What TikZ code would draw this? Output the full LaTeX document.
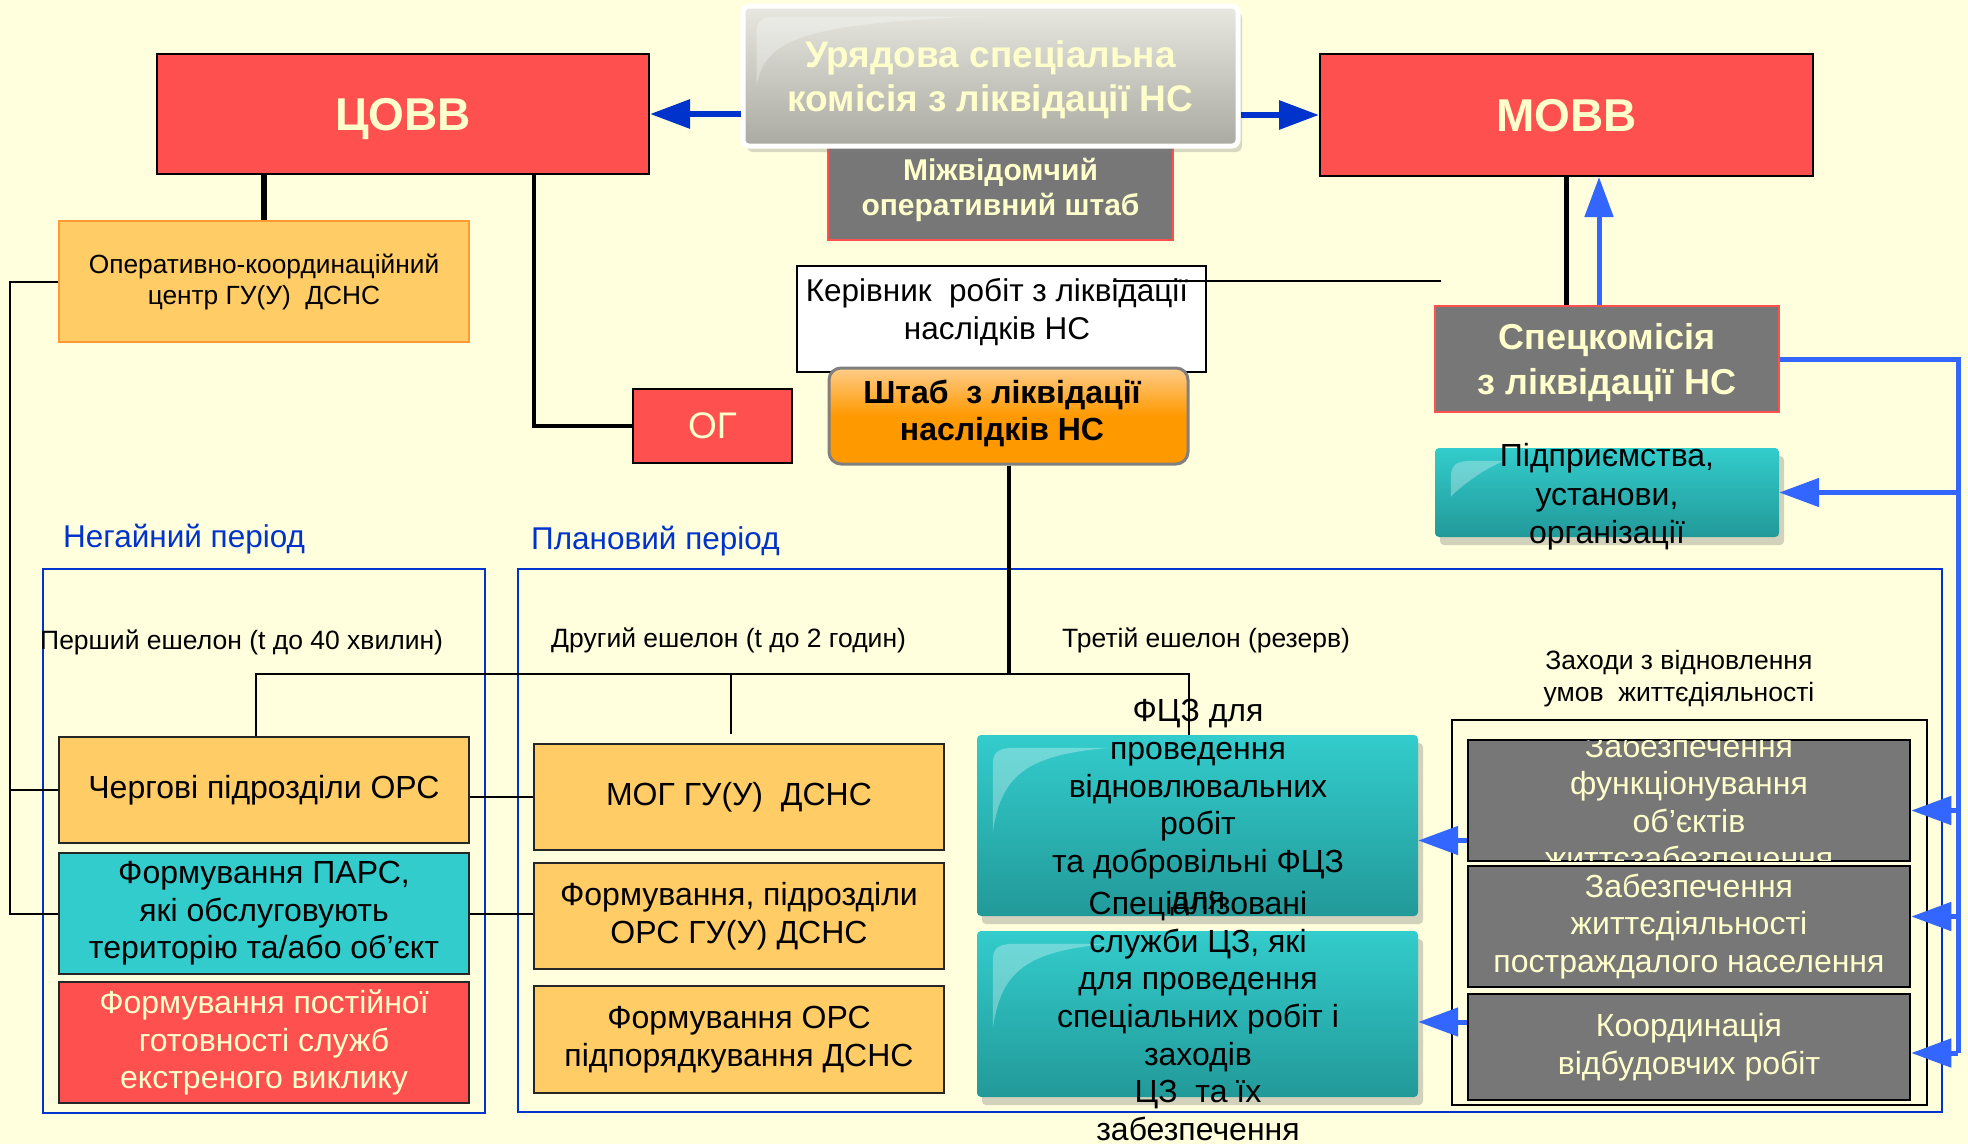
\documentclass[tikz,border=0pt]{standalone}
\usepackage{fontspec}
\setmainfont{Liberation Sans}
\usetikzlibrary{calc,arrows.meta,shadows}
\definecolor{bgcol}{HTML}{FFFFDD}
\definecolor{redbox}{HTML}{FF5050}
\definecolor{goldbox}{HTML}{FFCC66}
\definecolor{goldedge}{HTML}{FF9933}
\definecolor{tealtop}{HTML}{33CCCC}
\definecolor{tealbot}{HTML}{229999}
\definecolor{graybox}{HTML}{777777}
\definecolor{cream}{HTML}{FFFFCC}
\definecolor{bluedark}{HTML}{0033CC}
\definecolor{bluelight}{HTML}{3366FF}
\definecolor{shtabtop}{HTML}{FFCC88}
\definecolor{shtabbot}{HTML}{FF9900}
\definecolor{silvertop}{HTML}{E8E8E1}
\definecolor{silverbot}{HTML}{AAAAA3}
\newcommand{\glint}[3]{%
  \fill[white, opacity=0.3]
    ($(#1.north west)+(16,#2)$) -- ($(#1.north west)+(16,30)$)
    .. controls ($(#1.north west)+(16,16)$) and ($(#1.north west)+(22,13)$) .. ($(#1.north west)+(40,13)$)
    -- ($(#1.north west)+(#3,13)$)
    .. controls ($(#1.north west)+(50,20)$) and ($(#1.north west)+(24,40)$) .. cycle;}

\begin{document}
\begin{tikzpicture}
[
x=1pt, y=-1pt,
box-red/.style={draw=black, line width=2pt, fill=redbox, text=cream, inner sep=0pt},
box-gold/.style={draw=black!85, line width=2.5pt, fill=goldbox, text=black, inner sep=0pt, align=center, font=\fontsize{32}{37.5}\selectfont},
box-teal/.style={rounded corners=4pt, top color=tealtop, bottom color=tealbot, drop shadow={shadow xshift=5pt, shadow yshift=-8pt, opacity=0.35}, inner sep=0pt},
box-gray/.style={draw=black, line width=2.5pt, fill=graybox, text=cream, inner sep=0pt, align=center, font=\fontsize{32}{37.6}\selectfont},
box-silver/.style={draw=white, line width=5pt, rounded corners=6pt, top color=silvertop, bottom color=silverbot, inner sep=0pt, drop shadow={shadow xshift=4pt, shadow yshift=-6pt, opacity=0.3}},
text-a/.style={black, align=center, inner sep=0pt},
link-a/.style={black, line width=2pt},
link-b/.style={black, line width=4pt},
link-c/.style={black, line width=5.5pt},
link-blue/.style={bluelight, line width=5pt},
arrow-a/.style={bluedark, line width=6pt, -{Triangle[length=40pt, width=28pt]}},
arrow-b/.style={bluelight, line width=5pt, -{Triangle[length=40pt, width=28pt]}},
frame-a/.style={bluedark, line width=2.5pt}
]
\useasboundingbox (0,0) rectangle (1968,1144);
\fill[bgcol] (0,0) rectangle (1968,1144);

% periods
\draw[frame-a] (43,569) rectangle (485,1113);
\draw[frame-a] (518,569) rectangle (1942,1112);
\draw[link-a] (1452,720) rectangle (1927,1105);
\node (urgent)  [text-a, bluedark, anchor=west, font=\fontsize{31.5}{36}\selectfont] at (63,539) {Негайний період};
\node (planned) [text-a, bluedark, anchor=west, font=\fontsize{31.5}{36}\selectfont] at (531,541) {Плановий період};
\node (ech-1)   [text-a, anchor=west, font=\fontsize{26.5}{30}\selectfont] at (40,642) {Перший ешелон (t до 40 хвилин)};
\node (ech-2)   [text-a, anchor=west, font=\fontsize{26.5}{30}\selectfont] at (551,640) {Другий ешелон (t до 2 годин)};
\node (ech-3)   [text-a, anchor=west, font=\fontsize{26.5}{30}\selectfont] at (1062,640) {Третій ешелон (резерв)};
\node (zakhody) [text-a, font=\fontsize{26.5}{32}\selectfont] at (1679,679) {Заходи з відновлення\\умов~ життєдіяльності};

% top row
\node (mizhv) [box-gray, draw=redbox, line width=2pt, minimum width=345, minimum height=100, font=\bfseries\fontsize{30}{35}\selectfont] at (1000.5,190) {Міжвідомчий\\оперативний штаб};
\node (uriad) [box-silver, minimum width=495, minimum height=140] at (990.5,76) {};
\glint{uriad}{83}{240}
\node (uriad-txt) [text-a, cream, font=\bfseries\fontsize{37}{44}\selectfont] at (990.5,80) {Урядова спеціальна\\комісія з ліквідації НС};
\node (tsovv) [box-red, minimum width=492, minimum height=120, text depth=0pt, font=\bfseries\fontsize{46}{50}\selectfont] at (403,114) {ЦОВВ};
\node (movv)  [box-red, minimum width=493, minimum height=122, text depth=0pt, font=\bfseries\fontsize{46}{50}\selectfont] at (1566.5,115) {МОВВ};
\node (opk)   [box-gold, draw=goldedge, minimum width=410, minimum height=121, font=\fontsize{26.3}{31}\selectfont] at (264,281.5) {Оперативно-координаційний\\центр ГУ(У)~ ДСНС};
\node (og)    [box-red, minimum width=159, minimum height=74, font=\fontsize{37}{40}\selectfont] at (712.5,426) {ОГ};
\node (kerivnyk) [draw=black, line width=2pt, fill=white, minimum width=409, minimum height=106] at (1001.5,319) {};
\node (kerivnyk-txt) [text-a, font=\fontsize{31.5}{38}\selectfont] at (997,312) {Керівник~ робіт з ліквідації\\наслідків НС};
\node (shtab) [draw=gray, line width=3pt, rounded corners=12pt, top color=shtabtop, bottom color=shtabbot, middle color=shtabbot, minimum width=359, minimum height=96, inner sep=0pt] at (1008.5,416) {};
\node (shtab-txt) [text-a, font=\bfseries\fontsize{32}{37}\selectfont] at (1002,413.5) {Штаб~ з ліквідації\\наслідків НС};
\node (speck) [box-gray, draw=redbox, line width=2pt, minimum width=344, minimum height=106] at (1607,359) {};
\node (speck-txt) [text-a, cream, font=\bfseries\fontsize{36}{45}\selectfont] at (1607,363) {Спецкомісія\\з ліквідації НС};
\node (pidpr) [box-teal, minimum width=344, minimum height=89] at (1607,492.5) {};
\glint{pidpr}{49}{70}

% echelons
\node (cherg)    [box-gold, minimum width=410, minimum height=106] at (264,790) {Чергові підрозділи ОРС};
\node (pars)     [box-gold, fill=tealtop, minimum width=410, minimum height=121] at (264,913.5) {Формування ПАРС,\\які обслуговують\\територію та/або об’єкт};
\node (postiyni) [box-gold, fill=redbox, text=cream, minimum width=410, minimum height=121] at (264,1042.5) {Формування постійної\\готовності служб\\екстреного виклику};
\node (mog)      [box-gold, minimum width=410, minimum height=106] at (739,797) {МОГ ГУ(У)~ ДСНС};
\node (fpidr)    [box-gold, minimum width=410, minimum height=106] at (739,916) {Формування, підрозділи\\ОРС ГУ(У) ДСНС};
\node (fors)     [box-gold, minimum width=410, minimum height=107] at (739,1039.5) {Формування ОРС\\підпорядкування ДСНС};
\node (fcz)      [box-teal, minimum width=441, minimum height=181] at (1197.5,825.5) {};
\glint{fcz}{98}{133}
\node (spec)     [box-teal, minimum width=441, minimum height=166] at (1197.5,1014) {};
\glint{spec}{98}{133}
\node (zab-obj)  [box-gray, minimum width=442, minimum height=121] at (1689,800.5) {};
\begin{scope}
\clip ([shift={(1.5,1.5)}]zab-obj.north west) rectangle ([shift={(-1.5,-1.5)}]zab-obj.south east);
\node (zab-obj-txt) [text-a, cream, font=\fontsize{32}{37.6}\selectfont] at (1689,802) {Забезпечення\\функціонування\\об'єктів\\життєзабезпечення};
\end{scope}
\node (zab-nas)  [box-gray, minimum width=442, minimum height=121] at (1689,926.5) {Забезпечення\\життєдіяльності\\постраждалого населення};
\node (koord)    [box-gray, minimum width=442, minimum height=106] at (1689,1047) {Координація\\відбудовчих робіт};

% black links
\draw[link-c] (tsovv.south -| opk.north) -- (opk.north);
\coordinate (tsovv-og) at (534,174);
\draw[link-b] (tsovv-og) |- (og.west);
\coordinate (left-bus) at (10,913.5);
\draw[link-a] (opk.west) -| (left-bus) -- (pars.west);
\draw[link-a] (cherg.west) -- (cherg.west -| left-bus);
\draw[link-a] (cherg.east |- mog.west) -- (mog.west);
\draw[link-a] (pars.east) -- (pars.east -| fpidr.west);
\coordinate (bus-w) at (256,674);
\coordinate (bus-mid) at (731,674);
\coordinate (bus-e) at (1189,674);
\draw[link-b] (shtab.south) -- (shtab.south |- bus-w);
\draw[link-a] (cherg.north -| bus-w) -- (bus-w) -- (bus-e) -- (bus-e |- fcz.north);
\draw[link-a] (bus-mid) -- ($(mog.north -| bus-mid)+(0,-9)$);
\coordinate (kerivnyk-line) at (1441,281);
\draw[link-a] (kerivnyk-line) -- ($(kerivnyk.east)+(-94,-38)$);
\draw[link-c] (movv.south) -- (movv.south |- speck.north);

% blue links
\draw[arrow-a] (uriad.west |- tsovv.east) -- (tsovv.east);
\draw[arrow-a] (uriad.east |- movv.west) -- (movv.west);
\coordinate (speck-up) at ($(speck.north)+(-8,0)$);
\draw[arrow-b] (speck-up) -- (speck-up |- movv.south);
\coordinate (rbus-end) at (1958,1053);
\draw[link-blue] (speck.east) -| (rbus-end);
\draw[arrow-b] (pidpr.east -| rbus-end) -- (pidpr.east);
\coordinate (zab-obj-in) at ($(zab-obj.east)+(0,10)$);
\draw[arrow-b] (zab-obj-in -| rbus-end) -- (zab-obj-in);
\coordinate (zab-nas-in) at ($(zab-nas.east)+(0,-10)$);
\draw[arrow-b] (zab-nas-in -| rbus-end) -- (zab-nas-in);
\draw[arrow-b] (rbus-end) -- (rbus-end -| koord.east);
\coordinate (zab-obj-out) at ($(zab-obj.west)+(0,40)$);
\draw[arrow-b] (zab-obj-out) -- (zab-obj-out -| fcz.east);
\coordinate (koord-out) at ($(koord.west)+(0,-25)$);
\draw[arrow-b] (koord-out) -- (koord-out -| spec.east);

% texts running out of the teal boxes
\node (pidpr-txt) [text-a, font=\fontsize{32}{38.5}\selectfont] at (1607,497) {Підприємства,\\установи,\\організації};
\node (fcz-txt)   [text-a, font=\fontsize{32}{37.6}\selectfont] at (1198,808) {ФЦЗ для\\проведення\\відновлювальних\\робіт\\та добровільні ФЦЗ\\для};
\node (spec-txt)  [text-a, font=\fontsize{32}{37.6}\selectfont] at (1198,1016) {Спеціалізовані\\служби ЦЗ, які\\для проведення\\спеціальних робіт і\\заходів\\ЦЗ~ та їх\\забезпечення};
\end{tikzpicture}
\end{document}
